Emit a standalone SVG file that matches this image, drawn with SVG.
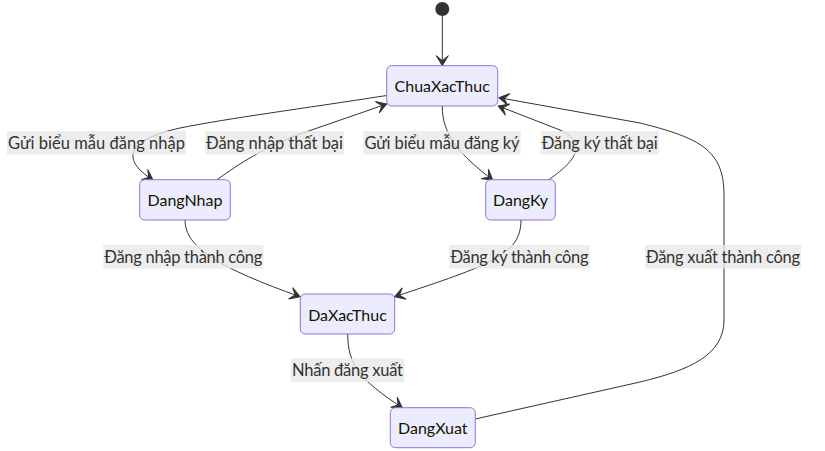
<svg xmlns="http://www.w3.org/2000/svg" width="825" height="451" viewBox="0 0 825 451">
<defs>
<style>
.node rect{fill:#ECECFF;stroke:#9370DB;stroke-width:1px}
.node text{font-family:Lato,"Liberation Sans","DejaVu Sans",sans-serif;font-size:16px;fill:#131300;text-anchor:middle;dominant-baseline:central}
.edge{fill:none;stroke:#333;stroke-width:1px;marker-end:url(#barb)}
.lbl rect{fill:rgba(232,232,232,0.8)}
.lbl text{font-family:Lato,"Liberation Sans","DejaVu Sans",sans-serif;font-size:16.5px;fill:#333;text-anchor:middle;dominant-baseline:central}
</style>
<marker id="barb" viewBox="0 0 20 14" refX="19" refY="7" markerWidth="20" markerHeight="14" markerUnits="userSpaceOnUse" orient="auto">
<path d="M19,7 L9,13 L14,7 L9,1 Z" fill="#333" stroke="#333" stroke-width="1"/>
</marker>
</defs>
<rect width="825" height="451" fill="#fff"/>
<g id="start"><circle cx="442.3" cy="9" r="7" fill="#333"/></g>
<g id="connectors">
<path class="edge" d="M442.3,16 L442.3,65.7"/>
<path class="edge" d="M386.7,95.5 C300,109 230,118 180,128 C130,139 118,158 153,180"/>
<path class="edge" d="M216.7,180 C240,163 262,149 300,134 L386.7,104"/>
<path class="edge" d="M442.3,106 C442,135 460,155 492.7,180"/>
<path class="edge" d="M548.3,180 C570,165 592,145 560,130 L498.3,106"/>
<path class="edge" d="M475.3,419 L640,382 C690,370 724,355 724,320 L724,195 C724,150 700,138 640,123 L499,97.7"/>
<path class="edge" d="M185,220 C185,248 220,268 300,296.7"/>
<path class="edge" d="M521,220 C521,255 490,265 394.7,296.7"/>
<path class="edge" d="M347.7,333.7 C347.7,365 360,380 402.3,407.7"/>
</g>
<g id="labels">
<g class="lbl"><rect x="7" y="131" width="179" height="23.5"/><text x="96.5" y="142.7" textLength="177">Gửi biểu mẫu đăng nhập</text></g>
<g class="lbl"><rect x="205" y="131" width="139" height="23.5"/><text x="274.5" y="142.7" textLength="137">Đăng nhập thất bại</text></g>
<g class="lbl"><rect x="363.3" y="131" width="157.4" height="23.5"/><text x="442" y="142.7" textLength="155">Gửi biểu mẫu đăng ký</text></g>
<g class="lbl"><rect x="540.7" y="131" width="118.3" height="23.5"/><text x="599.8" y="142.7" textLength="116">Đăng ký thất bại</text></g>
<g class="lbl"><rect x="103.3" y="245" width="160" height="23.5"/><text x="183.3" y="256.7" textLength="158">Đăng nhập thành công</text></g>
<g class="lbl"><rect x="449.3" y="245" width="140.4" height="23.5"/><text x="519.5" y="256.7" textLength="138">Đăng ký thành công</text></g>
<g class="lbl"><rect x="645" y="245" width="156" height="23.5"/><text x="723" y="256.7" textLength="154">Đăng xuất thành công</text></g>
<g class="lbl"><rect x="290.7" y="358.5" width="113.6" height="23.5"/><text x="347.5" y="370.2" textLength="111">Nhấn đăng xuất</text></g>
</g>
<g id="ChuaXacThuc" class="node"><rect x="386.7" y="65.7" width="111" height="40.3" rx="5" ry="5"/><text x="442.2" y="85.9">ChuaXacThuc</text></g>
<g id="DangNhap" class="node"><rect x="139.7" y="179.7" width="90.6" height="40.3" rx="5" ry="5"/><text x="185" y="199.8">DangNhap</text></g>
<g id="DangKy" class="node"><rect x="485.7" y="179.7" width="69.6" height="40.3" rx="5" ry="5"/><text x="520.5" y="199.8">DangKy</text></g>
<g id="DaXacThuc" class="node"><rect x="300.3" y="294" width="94.4" height="40" rx="5" ry="5"/><text x="347.5" y="314">DaXacThuc</text></g>
<g id="DangXuat" class="node"><rect x="390.3" y="407.7" width="85" height="40" rx="5" ry="5"/><text x="432.8" y="427.7">DangXuat</text></g>
</svg>
